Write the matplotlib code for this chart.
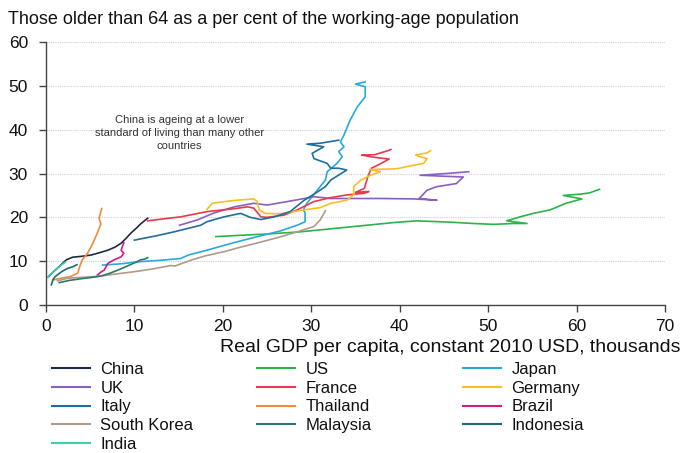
import matplotlib
matplotlib.use("Agg")
import matplotlib.pyplot as plt
from matplotlib.lines import Line2D

plt.rcParams['font.family'] = ['Liberation Sans', 'DejaVu Sans']

# ---- data (GDP per capita, thousands 2010 USD ; old-age ratio %) ----
china_x = [0.3, 0.8, 1.5, 2.3, 3.0, 4.0, 5.1, 6.0, 7.0, 7.8, 8.5, 9.0, 9.6, 10.2, 10.7, 11.5]
china_y = [6.5, 7.5, 8.8, 10.3, 10.9, 11.1, 11.4, 11.9, 12.5, 13.2, 14.1, 15.1, 16.4, 17.5, 18.5, 19.8]

us_x = [19.2, 22.0, 25.0, 28.8, 31.8, 34.8, 39.3, 41.9, 45.7, 48.3, 50.6, 52.9, 54.4, 52.1, 53.6,
        55.1, 57.0, 58.8, 60.6, 58.5, 60.5, 61.5, 62.6]
us_y = [15.6, 15.9, 16.2, 16.7, 17.3, 17.9, 18.8, 19.2, 18.9, 18.6, 18.4, 18.6, 18.6, 19.2, 20.1,
        20.9, 21.7, 23.2, 24.2, 25.0, 25.3, 25.6, 26.4]

japan_x = [6.4, 8.5, 10.7, 13.0, 15.2, 16.1, 18.2, 21.2, 23.9, 26.5, 28.4, 29.3, 29.3, 29.1, 29.5,
           31.0, 31.6, 31.8, 32.9, 33.5, 33.1, 33.7, 33.3, 33.7, 34.4, 35.2, 36.1, 36.1, 35.0, 36.1]
japan_y = [9.1, 9.4, 9.9, 10.2, 10.6, 11.4, 12.5, 14.2, 15.6, 16.9, 18.2, 19.0, 21.0, 21.7, 23.2,
           27.0, 28.5, 30.4, 32.3, 33.8, 35.0, 36.1, 37.2, 38.8, 42.2, 45.2, 47.5, 49.8, 50.4, 50.9]

uk_x = [15.1, 17.1, 19.0, 21.3, 23.5, 25.0, 27.3, 30.3, 32.2, 37.8, 41.6, 44.2, 42.2, 43.1, 44.2,
        46.4, 47.2, 42.3, 45.3, 47.8]
uk_y = [18.2, 19.4, 21.0, 22.4, 23.2, 22.8, 23.6, 24.7, 24.3, 24.3, 24.2, 23.9, 24.3, 26.2, 27.0,
        27.7, 29.2, 29.6, 30.0, 30.4]

france_x = [11.5, 13.5, 15.2, 18.2, 21.4, 22.8, 23.5, 24.3, 25.0, 26.9, 28.4, 30.3, 32.2, 34.0,
            36.0, 36.5, 35.0, 36.0, 36.4, 36.8, 37.8, 38.8, 37.5, 36.5, 35.7, 37.2, 38.8, 39.0]
france_y = [19.2, 19.7, 20.1, 21.3, 22.0, 22.4, 22.1, 20.1, 20.0, 20.5, 21.7, 23.6, 24.5, 25.1,
            25.5, 25.9, 25.7, 26.6, 29.3, 31.2, 32.2, 33.3, 33.6, 33.9, 34.2, 34.3, 35.3, 35.5]

germany_x = [18.2, 18.8, 21.0, 23.5, 23.9, 24.1, 24.8, 26.5, 28.0, 29.5, 31.0, 32.2, 34.0, 34.8,
             34.8, 35.6, 36.7, 37.8, 36.6, 38.5, 39.7, 41.6, 42.7, 43.1, 42.3, 41.8, 43.1, 43.5]
germany_y = [21.8, 23.2, 23.8, 24.2, 23.6, 21.7, 20.9, 20.8, 21.3, 21.8, 22.2, 23.2, 23.9, 25.1,
             27.0, 28.5, 29.6, 30.4, 30.9, 31.0, 31.1, 31.9, 32.3, 33.4, 33.8, 34.2, 34.7, 35.2]

italy_x = [10.0, 12.5, 14.5, 17.5, 18.2, 20.1, 22.0, 23.1, 24.3, 25.8, 27.6, 29.2, 30.7, 31.6,
           32.2, 33.7, 34.0, 33.1, 32.2, 31.8, 30.3, 30.1, 31.4, 29.5, 31.0, 33.1]
italy_y = [14.8, 15.8, 16.7, 18.2, 19.0, 20.1, 20.9, 20.0, 19.5, 20.1, 21.3, 23.9, 25.8, 27.0,
           28.5, 30.4, 30.8, 31.2, 31.2, 32.3, 33.4, 34.6, 36.1, 36.7, 36.9, 37.6]

thailand_x = [0.75, 1.7, 2.8, 3.6, 3.8, 4.1, 4.7, 5.3, 5.8, 6.2, 6.0, 6.3]
thailand_y = [5.7, 6.1, 6.5, 7.3, 8.7, 10.3, 11.8, 14.1, 16.4, 18.5, 19.8, 22.0]

brazil_x = [5.8, 6.2, 6.6, 7.0, 7.7, 8.5, 8.8, 8.5, 8.7, 8.8]
brazil_y = [6.8, 7.5, 8.0, 9.5, 10.3, 11.0, 11.8, 12.5, 13.7, 14.2]

korea_x = [1.3, 2.4, 4.0, 6.2, 8.0, 10.0, 12.0, 14.1, 14.6, 16.5, 18.0, 20.2, 22.0, 24.0, 26.6,
           28.4, 30.3, 31.0, 31.6]
korea_y = [5.5, 6.1, 6.3, 6.6, 7.1, 7.6, 8.2, 9.0, 8.9, 10.3, 11.2, 12.2, 13.2, 14.2, 15.6,
           16.7, 17.9, 19.4, 21.5]

malaysia_x = [1.5, 2.6, 4.0, 5.2, 6.2, 7.3, 8.3, 9.2, 10.0, 10.7, 11.2, 11.5]
malaysia_y = [5.1, 5.6, 6.0, 6.3, 6.6, 7.3, 8.1, 8.9, 9.6, 10.3, 10.5, 10.8]

indonesia_x = [0.6, 0.8, 1.0, 1.3, 1.7, 2.1, 2.5, 3.0, 3.5]
indonesia_y = [4.6, 5.8, 6.4, 6.9, 7.5, 8.0, 8.4, 8.7, 9.2]

india_x = [0.2, 0.4, 0.7, 1.0, 1.4, 1.8, 2.2]
india_y = [6.3, 6.8, 7.3, 7.9, 8.6, 9.2, 9.8]

series = [
    ("China", china_x, china_y, "#1c2b46"),
    ("US", us_x, us_y, "#2db34a"),
    ("Japan", japan_x, japan_y, "#29a8e0"),
    ("UK", uk_x, uk_y, "#8a5fc0"),
    ("France", france_x, france_y, "#e8384f"),
    ("Germany", germany_x, germany_y, "#f5c023"),
    ("Italy", italy_x, italy_y, "#1f6e9c"),
    ("Thailand", thailand_x, thailand_y, "#f08a3c"),
    ("Brazil", brazil_x, brazil_y, "#d6197a"),
    ("South Korea", korea_x, korea_y, "#b09a88"),
    ("Malaysia", malaysia_x, malaysia_y, "#2a7a70"),
    ("Indonesia", indonesia_x, indonesia_y, "#1f6b6b"),
    ("India", india_x, india_y, "#40d0a8"),
]

x_ticks = [0, 10, 20, 30, 40, 50, 60, 70]
y_ticks = [0, 10, 20, 30, 40, 50, 60]

fig = plt.figure(figsize=(6.81, 4.53), dpi=100)
ax = fig.add_axes([46/681, 1-305/453, (665-46)/681, (305-42)/453])

handles = {}
for name, xs, ys, col in series:
    ln, = ax.plot(xs, ys, color=col, lw=1.2, solid_joinstyle='round')
    handles[name] = ln

ax.set_xlim(0, 70)
ax.set_ylim(0, 60)
ax.set_xticks(x_ticks)
ax.set_yticks(y_ticks)
for y in y_ticks[1:]:
    ax.axhline(y, color="#cfcfcf", lw=0.8, ls=(0, (1, 1)), zorder=0)

for s in ["top", "right"]:
    ax.spines[s].set_visible(False)
for s in ["left", "bottom"]:
    ax.spines[s].set_color("#444444")
    ax.spines[s].set_linewidth(1.0)
ax.tick_params(axis='both', colors="#444444", labelcolor="#111111", labelsize=12.5,
               length=5, width=1.0, direction='out')
ax.tick_params(axis='y', pad=8)
ax.tick_params(axis='x', pad=5)

ax.text(15.1, 39.2, "China is ageing at a lower\nstandard of living than many other\ncountries",
        ha='center', va='center', fontsize=8, color="#333333", linespacing=1.35)

fig.text(8/681, 1-19/453, "Those older than 64 as a per cent of the working-age population",
         ha='left', va='center', fontsize=13, color="#111111")
fig.text(680/681, 1-347/453, "Real GDP per capita, constant 2010 USD, thousands",
         ha='right', va='center', fontsize=14, color="#111111")

cols = [["China", "UK", "Italy", "South Korea", "India"],
        ["US", "France", "Thailand", "Malaysia"],
        ["Japan", "Germany", "Brazil", "Indonesia"]]
col_left = [52, 257, 463]
for names, lx in zip(cols, col_left):
    hs = [Line2D([], [], color=handles[n].get_color(), lw=1.5) for n in names]
    leg = fig.legend(hs, names, loc='upper left', bbox_to_anchor=(lx/681, 1-362/453),
                     frameon=False, fontsize=12, handlelength=2.3, handletextpad=0.6,
                     labelspacing=0.22, borderpad=0, borderaxespad=0)
    for t in leg.get_texts():
        t.set_color("#111111")

fig.savefig("out.png", dpi=100)
